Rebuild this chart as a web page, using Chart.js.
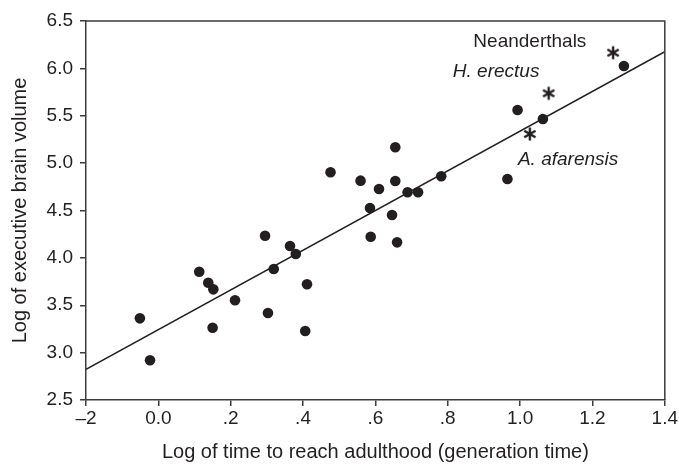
<!DOCTYPE html>
<html>
<head>
<meta charset="utf-8">
<script src="https://cdn.jsdelivr.net/npm/chart.js@4/dist/chart.umd.min.js"></script>
<style>
    html, body { margin: 0; padding: 0; background: #fff; }
    #wrap { width: 679px; height: 464px; }
</style>
</head>
<body>
<div id="wrap"><canvas id="brainChart"></canvas></div>
<script>
// ============= dados =====================================
const speciesX = [-0.051, -0.023, 0.113, 0.138, 0.152, 0.150, 0.212, 0.295, 0.303, 0.319,
    0.364, 0.380, 0.411, 0.406, 0.585, 0.587, 0.655, 0.476, 0.559, 0.655,
    0.610, 0.689, 0.718, 0.782, 0.646, 0.660, 0.993, 1.063, 1.287, 0.965]
const speciesY = [3.362, 2.919, 3.854, 3.738, 3.668, 3.263, 3.552, 4.234, 3.418, 3.883,
    4.125, 4.041, 3.721, 3.228, 4.526, 4.223, 5.167, 4.903, 4.815, 4.811,
    4.727, 4.692, 4.692, 4.861, 4.453, 4.164, 5.561, 5.466, 6.025, 4.832]

// hominídeos fósseis (asteriscos)
const fossilX = [1.257, 1.079, 1.027]
const fossilY = [6.165, 5.737, 5.307]

// reta de regressão
const fitX = [-0.2, 1.4]
const fitY = [2.824, 6.176]

const xTickValues = [-0.2, 0.0, 0.2, 0.4, 0.6, 0.8, 1.0, 1.2, 1.4]
const xTickLabels = ['–2', '0.0', '.2', '.4', '.6', '.8', '1.0', '1.2', '1.4']

const noteText = ['Neanderthals', 'H. erectus', 'A. afarensis']
const noteX = [1.027, 0.814, 0.994]
const noteY = [6.282, 5.965, 5.033]
const noteAlign = ['center', 'left', 'left']
const noteItalic = [false, true, true]

const ink = '#231f20'
const axisColor = '#3c3c3c'
const fontFamily = '"Liberation Sans", Arial, Helvetica, sans-serif'

// asterisco como pointStyle
function makeAsterisk() {
    const c = document.createElement('canvas')
    c.width = 16
    c.height = 16
    const g = c.getContext('2d')
    g.strokeStyle = ink
    g.lineWidth = 2.4
    g.lineCap = 'butt'
    for (let k = 0; k < 3; k++) {
        const a = Math.PI / 2 + k * Math.PI / 3
        g.beginPath()
        g.moveTo(8 - Math.cos(a) * 6.5, 8 - Math.sin(a) * 6.5)
        g.lineTo(8 + Math.cos(a) * 6.5, 8 + Math.sin(a) * 6.5)
        g.stroke()
    }
    return c
}

const frameAndNotes = {
    id: 'frameAndNotes',
    afterDraw(chart) {
        const ctx = chart.ctx
        const a = chart.chartArea
        const xs = chart.scales.x
        const ys = chart.scales.y
        ctx.save()
        ctx.strokeStyle = axisColor
        ctx.lineWidth = 1.5
        ctx.beginPath()
        ctx.moveTo(a.left, a.top)
        ctx.lineTo(a.right, a.top)
        ctx.lineTo(a.right, a.bottom)
        ctx.stroke()
        ctx.fillStyle = ink
        ctx.textBaseline = 'middle'
        noteText.forEach((t, i) => {
            ctx.font = (noteItalic[i] ? 'italic ' : '') + '19px ' + fontFamily
            ctx.textAlign = noteAlign[i]
            ctx.fillText(t, xs.getPixelForValue(noteX[i]), ys.getPixelForValue(noteY[i]))
        })
        ctx.restore()
    }
}

document.addEventListener('DOMContentLoaded', function () {
    const ctx = document.getElementById('brainChart').getContext('2d')
    const species = speciesX.map((x, i) => ({ x: x, y: speciesY[i] }))
    const fossils = fossilX.map((x, i) => ({ x: x, y: fossilY[i] }))
    const fit = fitX.map((x, i) => ({ x: x, y: fitY[i] }))

    new Chart(ctx, {
        type: 'scatter',
        data: {
            datasets: [
                {
                    type: 'line',
                    data: fit,
                    borderColor: ink,
                    borderWidth: 1.6,
                    pointRadius: 0,
                    fill: false
                },
                {
                    data: species,
                    backgroundColor: ink,
                    borderWidth: 0,
                    pointRadius: 5.3
                },
                {
                    data: fossils,
                    pointStyle: makeAsterisk(),
                    pointRadius: 8
                }
            ]
        },
        options: {
            responsive: true,
            maintainAspectRatio: false,
            animation: false,
            layout: { padding: { left: 0, right: 14, top: 21, bottom: 0 } },
            plugins: {
                legend: { display: false },
                tooltip: { enabled: false }
            },
            scales: {
                x: {
                    type: 'linear',
                    min: -0.2,
                    max: 1.4,
                    afterBuildTicks: s => { s.ticks = xTickValues.map(v => ({ value: v })) },
                    afterFit: s => { s.height = 64 },
                    grid: { drawOnChartArea: false, tickLength: 6, color: axisColor, lineWidth: 1.5 },
                    border: { color: axisColor, width: 1.5 },
                    ticks: {
                        color: ink,
                        font: { family: fontFamily, size: 19 },
                        padding: 1,
                        maxRotation: 0,
                        callback: v => {
                            const i = xTickValues.findIndex(t => Math.abs(t - v) < 1e-6)
                            return i >= 0 ? xTickLabels[i] : ''
                        }
                    },
                    title: {
                        display: true,
                        text: 'Log of time to reach adulthood (generation time)',
                        color: ink,
                        font: { family: fontFamily, size: 20 },
                        padding: { top: 0, bottom: 0 }
                    }
                },
                y: {
                    min: 2.5,
                    max: 6.5,
                    afterFit: s => { s.width = 86 },
                    grid: { drawOnChartArea: false, tickLength: 6, color: axisColor, lineWidth: 1.5 },
                    border: { color: axisColor, width: 1.5 },
                    ticks: {
                        stepSize: 0.5,
                        color: ink,
                        font: { family: fontFamily, size: 19 },
                        padding: 7,
                        callback: v => v.toFixed(1)
                    },
                    title: {
                        display: true,
                        text: 'Log of executive brain volume',
                        color: ink,
                        font: { family: fontFamily, size: 20 },
                        padding: { top: 8, bottom: 0 }
                    }
                }
            }
        },
        plugins: [frameAndNotes]
    })
})
</script>
</body>
</html>
